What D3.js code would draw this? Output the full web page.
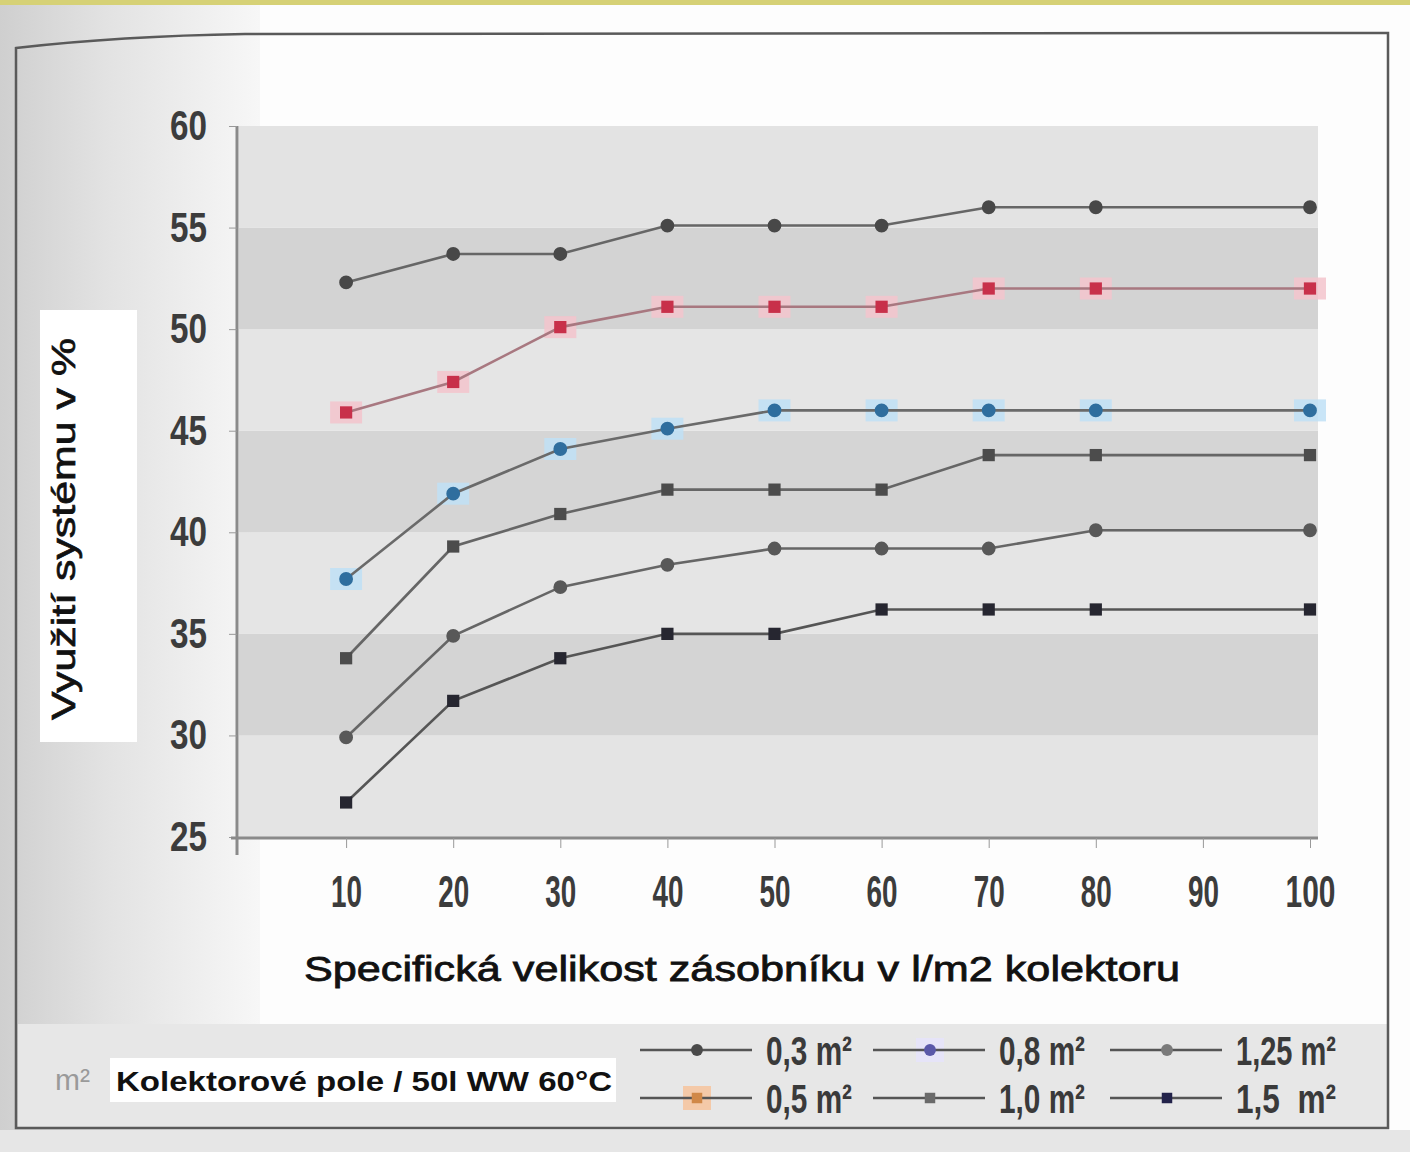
<!DOCTYPE html>
<html>
<head>
<meta charset="utf-8">
<script src="https://cdn.jsdelivr.net/npm/d3@7"></script>
<style>
  body { margin: 0; background: #fff; }
  svg { display: block; }
</style>
</head>
<body>
<svg id="chart" width="1410" height="1152"></svg>
<script>
// specific storage size, l/m2 of collector
const xVals = [10, 20, 30, 40, 50, 60, 70, 80, 100];
const xTicks = [10, 20, 30, 40, 50, 60, 70, 80, 90, 100];
const yTicks = [25, 30, 35, 40, 45, 50, 55, 60];

// system utilisation in %, one array per collector size
const s03  = [52.3, 53.7, 53.7, 55.1, 55.1, 55.1, 56.0, 56.0, 56.0];
const s05  = [45.9, 47.4, 50.1, 51.1, 51.1, 51.1, 52.0, 52.0, 52.0];
const s08  = [37.7, 41.9, 44.1, 45.1, 46.0, 46.0, 46.0, 46.0, 46.0];
const s10  = [33.8, 39.3, 40.9, 42.1, 42.1, 42.1, 43.8, 43.8, 43.8];
const s125 = [29.9, 34.9, 37.3, 38.4, 39.2, 39.2, 39.2, 40.1, 40.1];
const s15  = [26.7, 31.7, 33.8, 35.0, 35.0, 36.2, 36.2, 36.2, 36.2];

const seriesNames = ["0,3 m²", "0,5 m²", "0,8 m²", "1,0 m²", "1,25 m²", "1,5  m²"];

const svg = d3.select("#chart");

// ---- page background / frame
let defs = svg.append("defs");
let grad = defs.append("linearGradient").attr("id", "leftfade").attr("x1", 0).attr("x2", 1);
grad.append("stop").attr("offset", "0%").attr("stop-color", "#cfcfcf");
grad.append("stop").attr("offset", "40%").attr("stop-color", "#e2e2e2");
grad.append("stop").attr("offset", "100%").attr("stop-color", "#f7f7f7");

svg.append("rect").attr("x", 0).attr("y", 0).attr("width", 1410).attr("height", 1152).attr("fill", "#fdfdfd");
svg.append("rect").attr("x", 0).attr("y", 0).attr("width", 260).attr("height", 1152).attr("fill", "url(#leftfade)");
svg.append("rect").attr("x", 0).attr("y", 1130).attr("width", 1410).attr("height", 22).attr("fill", "#e6e6e6");
svg.append("rect").attr("x", 0).attr("y", 0).attr("width", 1410).attr("height", 5).attr("fill", "#d6d176");
// legend band
svg.append("rect").attr("x", 18).attr("y", 1024).attr("width", 1370).attr("height", 104).attr("fill", "#e7e7e7");

// frame
svg.append("path")
    .attr("d", "M16,1128 L16,48 Q120,36 245,34 L1388,33 L1388,1128 Z")
    .attr("fill", "none").attr("stroke", "#5a5a5a").attr("stroke-width", 2.5);

// ---- scales
let xMap = d3.scaleLinear().domain([0, 100]).range([239, 1310]);
let yMap = d3.scaleLinear().domain([25, 60]).range([837, 126]);

// alternating bands
let bandColors = ["#e4e4e4", "#d4d4d4", "#e5e5e5", "#d5d5d5", "#e5e5e5", "#d3d3d3", "#e3e3e3"];
let bandStarts = [25, 30, 35, 40, 45, 50, 55];
svg.append("g").selectAll("rect").data(bandStarts).enter().append("rect")
    .attr("x", xMap(0))
    .attr("width", 1318 - xMap(0))
    .attr("y", d => yMap(d + 5))
    .attr("height", d => yMap(d) - yMap(d + 5))
    .attr("fill", (d, i) => bandColors[i]);

// ---- axes
let yAxis = svg.append("g")
    .attr("transform", `translate(${xMap(0) - 2},0)`)
    .call(d3.axisLeft(yMap).tickValues(yTicks).tickSize(8).tickPadding(22).tickSizeOuter(0));
yAxis.select(".domain").attr("stroke", "#8a8a8a").attr("stroke-width", 3)
    .attr("d", `M0,${yMap(60)} V${yMap(25) + 18}`);
yAxis.selectAll(".tick line").attr("stroke", "#999");
yAxis.selectAll(".tick text")
    .attr("font-family", "'Liberation Sans Narrow', 'Liberation Sans', sans-serif")
    .attr("font-weight", "bold").attr("font-size", 42).attr("fill", "#3c3c3c")
    .attr("textLength", 37).attr("lengthAdjust", "spacingAndGlyphs");

let xAxis = svg.append("g")
    .attr("transform", `translate(0,${yMap(25) + 1})`)
    .call(d3.axisBottom(xMap).tickValues(xTicks).tickSize(10).tickPadding(28).tickSizeOuter(0));
xAxis.select(".domain").attr("stroke", "#8a8a8a").attr("stroke-width", 3)
    .attr("d", `M${xMap(0) - 8},0 H1318`);
xAxis.selectAll(".tick line").attr("stroke", "#999");
xAxis.selectAll(".tick text")
    .attr("font-family", "'Liberation Sans Narrow', 'Liberation Sans', sans-serif")
    .attr("font-weight", "bold").attr("font-size", 44).attr("fill", "#3c3c3c")
    .attr("textLength", d => d === 100 ? 50 : 31).attr("lengthAdjust", "spacingAndGlyphs");

// ---- series
let series = [
    {name: seriesNames[0], vals: s03,  line: "#666", mark: "#484848", shape: d3.symbolCircle, halo: null},
    {name: seriesNames[1], vals: s05,  line: "#a87880", mark: "#c8304a", shape: d3.symbolSquare, halo: "#f3c4cc"},
    {name: seriesNames[2], vals: s08,  line: "#6a6a6a", mark: "#2f6e9e", shape: d3.symbolCircle, halo: "#bfe0f6"},
    {name: seriesNames[3], vals: s10,  line: "#666", mark: "#4c4c4c", shape: d3.symbolSquare, halo: null},
    {name: seriesNames[4], vals: s125, line: "#666", mark: "#585858", shape: d3.symbolCircle, halo: null},
    {name: seriesNames[5], vals: s15,  line: "#555", mark: "#262630", shape: d3.symbolSquare, halo: null}
];

let line = d3.line().x(d => xMap(d[0])).y(d => yMap(d[1]));

let sg = svg.append("g").selectAll("g").data(series).enter().append("g");
sg.each(function(s) {
    let g = d3.select(this);
    let pts = xVals.map((x, i) => [x, s.vals[i]]);
    if (s.halo) {
        g.selectAll("rect.halo").data(pts).enter().append("rect")
            .attr("class", "halo")
            .attr("x", d => xMap(d[0]) - 16).attr("y", d => yMap(d[1]) - 11)
            .attr("width", 32).attr("height", 22)
            .attr("fill", s.halo).attr("opacity", 0.85);
    }
    g.append("path").datum(pts)
        .attr("d", line)
        .attr("fill", "none").attr("stroke", s.line).attr("stroke-width", 2.6);
    g.selectAll("path.mk").data(pts).enter().append("path")
        .attr("class", "mk")
        .attr("transform", d => `translate(${xMap(d[0])},${yMap(d[1])})`)
        .attr("d", d3.symbol().type(s.shape).size(150))
        .attr("fill", s.mark);
});

// ---- axis titles
svg.append("rect").attr("x", 40).attr("y", 310).attr("width", 97).attr("height", 432).attr("fill", "#fff");
svg.append("text")
    .attr("transform", "translate(75,529) rotate(-90)")
    .attr("text-anchor", "middle")
    .attr("font-family", "'Liberation Sans', Arial, sans-serif")
    .attr("font-size", 33).attr("fill", "#111")
    .attr("stroke", "#111").attr("stroke-width", 0.7)
    .attr("textLength", 382).attr("lengthAdjust", "spacingAndGlyphs")
    .text("Využití systému v %");

svg.append("text")
    .attr("x", 742).attr("y", 981)
    .attr("text-anchor", "middle")
    .attr("font-family", "'Liberation Sans', Arial, sans-serif")
    .attr("font-size", 35).attr("fill", "#111")
    .attr("stroke", "#111").attr("stroke-width", 0.8)
    .attr("textLength", 876).attr("lengthAdjust", "spacingAndGlyphs")
    .text("Specifická velikost zásobníku v l/m2 kolektoru");

// ---- bottom-left caption
svg.append("text")
    .attr("x", 55).attr("y", 1090)
    .attr("font-family", "'Liberation Sans Narrow', 'Liberation Sans', sans-serif")
    .attr("font-size", 30).attr("fill", "#9a9a9a")
    .text("m²");
svg.append("rect").attr("x", 110).attr("y", 1058).attr("width", 506).attr("height", 44).attr("fill", "#fff");
svg.append("text")
    .attr("x", 116).attr("y", 1091)
    .attr("font-family", "'Liberation Sans', Arial, sans-serif")
    .attr("font-weight", "bold").attr("font-size", 28).attr("fill", "#111")
    .attr("textLength", 496).attr("lengthAdjust", "spacingAndGlyphs")
    .text("Kolektorové pole / 50l WW 60°C");

// ---- legend
let legMarks = ["#4a4a4a", "#d08848", "#5a58a8", "#6a6a6a", "#7a7a7a", "#22224a"];
let legHalos = [null, "#f4c9a8", "#e6e4f8", null, null, null];
let colX = [640, 873, 1110];
let rowY = [1050, 1098];
let leg = svg.append("g").selectAll("g").data(series).enter().append("g")
    .attr("transform", (d, i) => `translate(${colX[Math.floor(i / 2)]},${rowY[i % 2]})`);
leg.each(function(s, i) {
    let g = d3.select(this);
    if (legHalos[i]) {
        g.append("rect").attr("x", 43).attr("y", -12).attr("width", 28).attr("height", 24)
            .attr("fill", legHalos[i]);
    }
    g.append("line").attr("x1", 0).attr("x2", 112).attr("y1", 0).attr("y2", 0)
        .attr("stroke", "#555").attr("stroke-width", 2.5);
    g.append("path").attr("transform", "translate(57,0)")
        .attr("d", d3.symbol().type(s.shape).size(110))
        .attr("fill", legMarks[i]);
    g.append("text")
        .attr("x", 126).attr("y", 15)
        .attr("font-family", "'Liberation Sans Narrow', 'Liberation Sans', sans-serif")
        .attr("font-weight", "bold").attr("font-size", 40).attr("fill", "#3a3a3a")
        .attr("textLength", i === 4 || i === 5 ? 100 : 86).attr("lengthAdjust", "spacingAndGlyphs")
        .style("white-space", "pre")
        .text(s.name);
});
</script>
</body>
</html>
